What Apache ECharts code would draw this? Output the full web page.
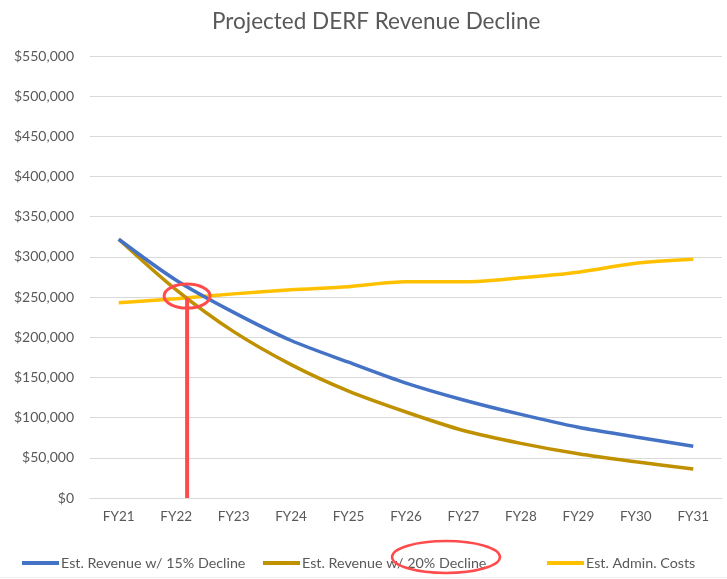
<!DOCTYPE html>
<html><head><meta charset="utf-8">
<script src="https://cdn.jsdelivr.net/npm/echarts@6/dist/echarts.min.js"></script>
<style>html,body{margin:0;padding:0;background:#fff}#c{width:727px;height:579px}</style>
</head><body><div id="c"></div>
<script>
const categories = ['FY21','FY22','FY23','FY24','FY25','FY26','FY27','FY28','FY29','FY30','FY31'];
const rev15 = [322000, 271000, 231000, 196000, 169000, 143000, 122000, 104000, 88000, 76000, 64500];
const rev20 = [322000, 259000, 207000, 166000, 133000, 107000, 84000, 68000, 55000, 45000, 36000];
const adminCosts = [243000, 248000, 254000, 259000, 263000, 269000, 269000, 274000, 281000, 292000, 297000];
const yMin = 0, yMax = 550000, yStep = 50000;
const seriesNames = ['Est. Revenue w/ 15% Decline','Est. Revenue w/ 20% Decline','Est. Admin. Costs'];
const colors = ['#4472C4','#BF9000','#FFC000'];

const FONT = 'Lato';
const chart = echarts.init(document.getElementById('c'));
const legendBase = {
  top: 551, itemWidth: 37, itemHeight: 4, icon: 'rect',
  textStyle: {color: '#595959', fontSize: 14.3, fontFamily: FONT, padding: [0,0,0,-3]}
};
chart.setOption({
  animation: false,
  title: {text: 'Projected DERF Revenue Decline', left: 207, top: 5,
    textStyle: {color: '#595959', fontSize: 22.5, fontWeight: 'normal', fontFamily: FONT}},
  grid: {left: 90, right: 5, top: 56, bottom: 81},
  legend: [
    Object.assign({}, legendBase, {left: 17, data: [seriesNames[0]]}),
    Object.assign({}, legendBase, {left: 258, data: [seriesNames[1]]}),
    Object.assign({}, legendBase, {left: 542, data: [seriesNames[2]]})
  ],
  xAxis: {type: 'category', data: categories, boundaryGap: true,
    axisLine: {show: true, lineStyle: {color: '#d9d9d9', width: 1}},
    axisTick: {show: false},
    axisLabel: {color: '#595959', fontSize: 13.5, fontFamily: FONT, margin: 12}},
  yAxis: {type: 'value', min: yMin, max: yMax, interval: yStep,
    axisLine: {show: false}, axisTick: {show: false},
    splitLine: {lineStyle: {color: '#d9d9d9', width: 1}},
    axisLabel: {color: '#595959', fontSize: 14, fontFamily: FONT, margin: 16,
      formatter: v => '$' + v.toLocaleString('en-US')}},
  series: [rev15, rev20, adminCosts].map((d, i) => ({
    name: seriesNames[i], type: 'line', data: d, smooth: 0.3,
    showSymbol: false, symbol: 'none',
    lineStyle: {color: colors[i], width: 3.5}, itemStyle: {color: colors[i]},
    z: 3 - i
  }))
});

// annotations anchored to the axes
const red = '#FF4B4B';
const p22 = chart.convertToPixel({xAxisIndex: 0}, 'FY22');
const p23 = chart.convertToPixel({xAxisIndex: 0}, 'FY23');
const ax = p22 + (p23 - p22) * 0.19;
const ay = chart.convertToPixel({yAxisIndex: 0}, 250000);
const y0 = chart.convertToPixel({yAxisIndex: 0}, 0);
chart.setOption({
  graphic: [
    {type: 'line', z: 100, shape: {x1: ax, y1: ay + 1, x2: ax, y2: y0},
      style: {stroke: red, lineWidth: 4}},
    {type: 'ellipse', z: 100, shape: {cx: ax, cy: ay - 1, rx: 23, ry: 12},
      style: {fill: 'none', stroke: red, lineWidth: 3}},
    {type: 'ellipse', z: 100, shape: {cx: 446, cy: 557, rx: 54, ry: 16},
      style: {fill: 'none', stroke: red, lineWidth: 2.5}},
    {type: 'line', z: 1, shape: {x1: 0, y1: 577.5, x2: 727, y2: 577.5},
      style: {stroke: '#eeeeee', lineWidth: 1}}
  ]
});
</script></body></html>
